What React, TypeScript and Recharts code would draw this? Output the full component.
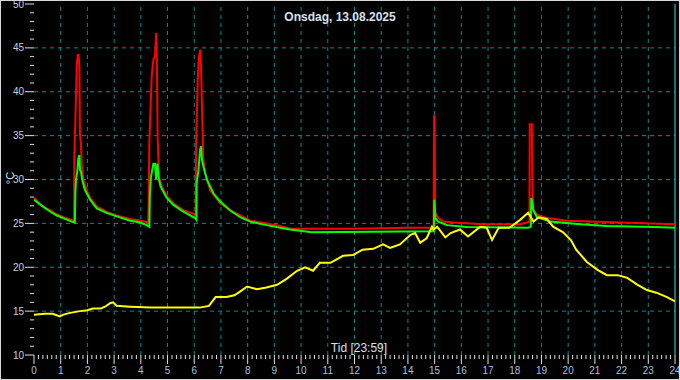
import { LineChart, Line, XAxis, YAxis, ReferenceLine } from 'recharts';

// [hour, °C]
const redSeries: [number, number][] = [
  [0, 27.9], [0.2, 27.3], [0.4, 26.8], [0.6, 26.5], [0.8, 26.1], [1.1, 25.7], [1.3, 25.5], [1.5, 25.3],
  [1.51, 32.6], [1.56, 38.2], [1.6, 43.0], [1.64, 44.2], [1.67, 44.2], [1.7, 42.8], [1.72, 35.1], [1.76, 34.0],
  [1.79, 31.4], [1.85, 30.0], [1.97, 28.8], [2.1, 27.9], [2.35, 26.9], [2.72, 26.3], [3.1, 25.9], [3.6, 25.5],
  [3.97, 25.3], [4.28, 25.1],
  [4.32, 34.3], [4.37, 38.7], [4.41, 41.9], [4.45, 43.1], [4.48, 43.8], [4.53, 44.0], [4.57, 46.7], [4.6, 43.6],
  [4.63, 34.7], [4.68, 30.3], [4.78, 29.2], [4.97, 28.1], [5.22, 27.3], [5.59, 26.5], [6.05, 26.0],
  [6.07, 34.1], [6.09, 36.4], [6.13, 41.3], [6.17, 43.8], [6.22, 44.8], [6.25, 43.2], [6.29, 38.3], [6.34, 32.2],
  [6.4, 30.9], [6.59, 28.8], [6.97, 27.3], [7.34, 26.5], [7.72, 25.9], [8.09, 25.3], [8.71, 25.0], [9.21, 24.7],
  [9.59, 24.4], [12.0, 24.4], [14.0, 24.5], [14.96, 24.5],
  [14.98, 37.2], [15.0, 37.2], [15.02, 26.2], [15.14, 25.6], [15.33, 25.2], [15.7, 25.1], [16.83, 24.9],
  [18.2, 24.9], [18.45, 25.1], [18.55, 25.2],
  [18.56, 36.3], [18.64, 36.3], [18.66, 29.2], [18.7, 26.5], [18.83, 26.0], [19.2, 25.6], [19.95, 25.3],
  [21.95, 25.1], [24, 24.9],
];

const greenSeries: [number, number][] = [
  [0, 27.7], [0.3, 27.0], [0.6, 26.35], [0.85, 25.9], [1.1, 25.6], [1.41, 25.2], [1.53, 25.1],
  [1.55, 28.4], [1.57, 29.95], [1.62, 30.9], [1.66, 32.4], [1.7, 32.8], [1.72, 31.1], [1.76, 30.9], [1.8, 30.0],
  [1.91, 28.8], [2.1, 27.7], [2.35, 26.7], [2.72, 26.2], [3.1, 25.8], [3.6, 25.3], [3.97, 25.1], [4.22, 24.8],
  [4.32, 24.6],
  [4.34, 28.4], [4.38, 30.3], [4.47, 31.8], [4.53, 31.8], [4.57, 30.0], [4.62, 31.8], [4.67, 30.1], [4.74, 29.2],
  [4.97, 27.9], [5.22, 27.1], [5.59, 26.35], [6.03, 25.6], [6.08, 25.4],
  [6.09, 29.6], [6.15, 30.9], [6.22, 33.4], [6.25, 33.8], [6.29, 32.2], [6.34, 31.5], [6.47, 30.0], [6.72, 28.4],
  [6.97, 27.5], [7.34, 26.5], [7.72, 25.7], [8.09, 25.2], [8.71, 24.8], [9.21, 24.5], [9.59, 24.3], [10.4, 24.0],
  [14.97, 24.1],
  [14.99, 27.7], [15.03, 25.6], [15.14, 25.2], [15.46, 24.8], [16.2, 24.6], [18.5, 24.5], [18.6, 24.6],
  [18.62, 27.9], [18.7, 26.5], [18.83, 25.7], [19.33, 25.2], [20.45, 24.9], [21.45, 24.7], [23.2, 24.6], [24, 24.5],
];

const yellowSeries: [number, number][] = [
  [0, 14.6], [0.4, 14.7], [0.7, 14.7], [0.97, 14.4], [1.1, 14.6], [1.35, 14.8], [1.72, 15.0], [2.0, 15.1],
  [2.2, 15.3], [2.5, 15.3], [2.66, 15.5], [2.85, 15.9], [2.96, 16.0], [3.1, 15.6], [3.6, 15.5], [4.35, 15.4],
  [5.1, 15.4], [6.2, 15.4], [6.55, 15.6], [6.8, 16.6], [7.2, 16.6], [7.5, 16.8], [7.7, 17.2], [7.98, 17.8],
  [8.35, 17.5], [8.7, 17.7], [9.1, 18.0], [9.47, 18.7], [9.85, 19.6], [10.15, 20.0], [10.45, 19.6], [10.7, 20.5],
  [11.1, 20.5], [11.57, 21.3], [11.95, 21.4], [12.3, 22.0], [12.7, 22.1], [13.07, 22.6], [13.33, 22.2],
  [13.7, 22.6], [14.1, 23.7], [14.27, 23.9], [14.46, 22.8], [14.7, 23.3], [14.9, 24.6], [14.95, 24.3],
  [15.1, 24.6], [15.4, 23.4], [15.6, 23.9], [15.95, 24.3], [16.25, 23.5], [16.7, 24.6], [16.95, 24.5],
  [17.15, 23.1], [17.4, 24.5], [17.8, 24.5], [18.2, 25.4], [18.5, 26.2], [18.7, 25.2], [18.9, 25.7],
  [19.2, 25.5], [19.45, 24.6], [19.8, 24.0], [20.1, 23.1], [20.3, 22.0], [20.7, 20.6], [21.1, 19.7],
  [21.45, 19.1], [21.85, 19.1], [22.2, 18.8], [22.6, 18.0], [22.95, 17.4], [23.3, 17.1], [23.7, 16.6], [24, 16.1],
];

const hourTicks = [0, 1, 2, 3, 4, 5, 6, 7, 8, 9, 10, 11, 12, 13, 14, 15, 16, 17, 18, 19, 20, 21, 22, 23, 24];
const tempTicks = [10, 15, 20, 25, 30, 35, 40, 45, 50];
const title = 'Onsdag, 13.08.2025';
const xLabel = 'Tid [23:59]';
const yLabel = '°C';

// 10-minute and 1-degree minor ticks
const minorX = Array.from({ length: 24 * 6 + 1 }, (_, i) => i / 6);
const minorY = Array.from({ length: 41 }, (_, i) => 10 + i);

const toRows = (s: [number, number][]) => s.map(([t, v]) => ({ t, v }));

const font = '"Liberation Sans", Arial, sans-serif';
const gridColor = '#008c8c';

function XTick({ x, y, payload }: any) {
  const v = payload.value;
  const major = Math.abs(v - Math.round(v)) < 1e-6;
  return (
    <g>
      <line x1={x} x2={x} y1={y} y2={y + (major ? 9 : 4)} stroke="#e0e0e0" />
      {major && (
        <text x={x} y={y + 19} textAnchor="middle" fill="#a8c0e0" fontSize={10} fontFamily={font}>
          {Math.round(v)}
        </text>
      )}
    </g>
  );
}

function YTick({ x, y, payload }: any) {
  const v = payload.value;
  const major = tempTicks.includes(v);
  return (
    <g>
      <line x1={x - (major ? 9 : 4)} x2={x} y1={y} y2={y} stroke="#e0e0e0" />
      {major && (
        <text x={x - 10} y={y + 3.5} textAnchor="end" fill="#c8d2e0" fontSize={10} fontFamily={font}>
          {v}
        </text>
      )}
    </g>
  );
}

export default function App() {
  return (
    <div style={{ position: 'absolute', left: 0, top: 0, width: 680, height: 380, background: '#000' }}>
      <LineChart width={680} height={380} margin={{ top: 4, right: 5, bottom: 5, left: 0 }}>
        <XAxis
          type="number"
          dataKey="t"
          domain={[0, 24]}
          ticks={minorX}
          interval={0}
          tick={<XTick />}
          tickLine={false}
          axisLine={false}
          tickSize={0}
          tickMargin={0}
          height={20}
          allowDataOverflow
        />
        <YAxis
          type="number"
          domain={[10, 50]}
          ticks={minorY}
          interval={0}
          tick={<YTick />}
          tickLine={false}
          axisLine={false}
          tickSize={0}
          tickMargin={0}
          width={34}
          allowDataOverflow
        />
        {hourTicks.slice(1, 24).map((h) => (
          <ReferenceLine key={'h' + h} x={h} stroke={gridColor} strokeDasharray="4 4" />
        ))}
        {tempTicks.slice(1, 8).map((v) => (
          <ReferenceLine key={'v' + v} y={v} stroke={gridColor} strokeDasharray="4 4" />
        ))}
        <ReferenceLine x={24} stroke="#30e0e0" />
        <Line data={toRows(redSeries)} dataKey="v" type="linear" stroke="#ff0000" strokeWidth={2} dot={false} isAnimationActive={false} />
        <Line data={toRows(greenSeries)} dataKey="v" type="linear" stroke="#00ff00" strokeWidth={2} dot={false} isAnimationActive={false} />
        <Line data={toRows(yellowSeries)} dataKey="v" type="linear" stroke="#ffff00" strokeWidth={2} dot={false} isAnimationActive={false} />
      </LineChart>
      <div style={{ position: 'absolute', left: 0, top: 10, width: 680, textAlign: 'center', font: `bold 12px ${font}`, lineHeight: '14px', color: '#d8e0ee' }}>
        {title}
      </div>
      <div style={{ position: 'absolute', left: 299, top: 341, width: 120, textAlign: 'center', font: `12px ${font}`, lineHeight: '14px', color: '#d8e0ee' }}>
        {xLabel}
      </div>
      <div style={{ position: 'absolute', left: -10, top: 171, width: 40, textAlign: 'center', font: `11px ${font}`, lineHeight: '14px', color: '#d8e0ee', transform: 'rotate(-90deg)' }}>
        {yLabel}
      </div>
      <div style={{ position: 'absolute', left: 0, top: 0, width: 680, height: 380, boxSizing: 'border-box', border: '1px solid #d8d8d8', pointerEvents: 'none' }} />
    </div>
  );
}
